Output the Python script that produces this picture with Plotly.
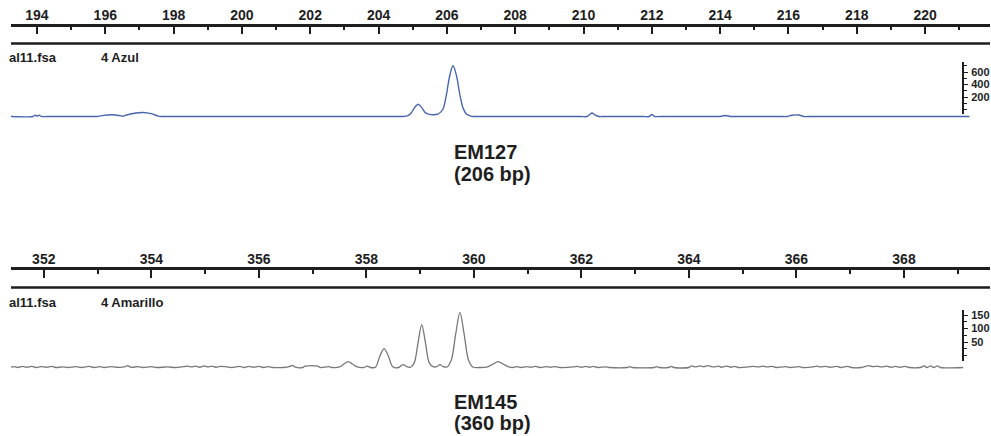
import plotly.graph_objects as go

# ---------------- data ----------------
# Panel 1: EM127, blue channel ("4 Azul"), size in bp vs RFU
azul_bp = [193.2, 193.88, 193.95, 194.0, 194.06, 194.13, 194.3, 195.55, 195.75, 195.95,
           196.2, 196.42, 196.52, 196.65, 196.9, 197.1, 197.35, 197.55, 197.65, 197.85,
           204.5, 204.7, 204.86, 204.96, 205.06, 205.16, 205.26, 205.36, 205.46, 205.6,
           205.75, 205.88, 205.98, 206.08, 206.18, 206.28, 206.38, 206.48, 206.58, 206.7,
           206.8, 207.0, 209.9, 210.1, 210.18, 210.25, 210.33, 210.45, 210.6, 211.75,
           211.92, 212.0, 212.08, 212.25, 213.8, 214.0, 214.15, 214.3, 214.5, 215.75,
           215.95, 216.1, 216.3, 216.45, 216.65, 221.3]
azul_rfu = [0, 0, 21, 6, 21, 0, 0, 0, 0, 18,
            28, 14, 4, 28, 56, 64, 45, 7, 0, 0,
            0, 0, 14, 60, 146, 197, 146, 66, 38, 27,
            42, 112, 329, 644, 812, 658, 350, 126, 35, 6,
            0, 0, 0, 0, 32, 56, 28, 0, 0, 0,
            0, 32, 0, 0, 0, 0, 16, 0, 0, 0,
            0, 21, 24, 0, 0, 0]

# Panel 2: EM145, yellow channel ("4 Amarillo")
amar_bp = [351.35, 351.45, 351.52, 351.6, 351.68, 351.78, 351.85, 351.95, 352.05, 352.15,
           352.22, 352.35, 352.45, 352.6, 352.7, 352.85, 352.92, 353.05, 353.12, 353.25,
           353.35, 353.5, 353.56, 353.62, 353.75, 353.85, 354.0, 354.1, 354.3, 354.45,
           354.6, 354.68, 354.75, 354.82, 354.9, 354.98, 355.05, 355.12, 355.2, 355.28,
           355.38, 355.5, 355.65, 355.72, 355.82, 355.9, 356.0, 356.08, 356.18, 356.26,
           356.45, 356.58, 356.63, 356.68, 356.82, 356.86, 357.1, 357.14, 357.3, 357.36,
           357.5, 357.58, 357.66, 357.74, 357.82, 357.95, 358.02, 358.08, 358.17, 358.25,
           358.33, 358.41, 358.49, 358.6, 358.68, 358.76, 358.82, 358.89, 358.96, 359.03,
           359.1, 359.17, 359.24, 359.31, 359.37, 359.43, 359.5, 359.58, 359.66, 359.74,
           359.82, 359.9, 359.98, 360.1, 360.25, 360.35, 360.45, 360.55, 360.65, 360.72,
           360.8, 360.88, 360.98, 361.05, 361.15, 361.22, 361.35, 361.42, 361.52, 361.6,
           361.85, 361.92, 362.0, 362.08, 362.15, 362.22, 362.3, 362.45, 362.52, 362.85,
           362.9, 362.95, 363.35, 363.4, 363.45, 363.62, 363.68, 363.72, 364.0, 364.05,
           364.12, 364.2, 364.28, 364.36, 364.45, 364.55, 364.6, 364.7, 364.78, 364.85,
           364.92, 365.1, 365.2, 365.28, 365.38, 365.45, 365.55, 365.62, 365.8, 365.88,
           366.05, 366.12, 366.3, 366.38, 366.45, 366.55, 366.62, 366.75, 366.82, 366.95,
           367.02, 367.2, 367.28, 367.35, 367.42, 367.5, 367.58, 367.68, 367.75, 367.85,
           367.92, 368.02, 368.1, 368.3, 368.38, 368.42, 368.5, 368.55, 368.62, 368.68,
           369.1]
amar_rfu = [0, 3, 0, 4, 1, 4, 0, 3, 1, 4,
            0, 2, 0, 3, 0, 4, 0, 3, 0, 3,
            1, 2, 7, 1, 3, 0, 3, 0, 2, 0,
            3, 5, 2, 5, 1, 6, 2, 5, 1, 4,
            3, 0, 4, 0, 4, 1, 4, 0, 3, 0,
            0, 4, 8, 1, 0, 5, 5, 0, 3, 0,
            2, 13, 22, 13, 3, 0, 5, 0, 1, 42,
            70, 42, 3, 0, 11, 2, 1, 17, 90, 159,
            90, 17, 3, 3, 11, 3, 2, 28, 122, 204,
            122, 28, 2, 0, 2, 12, 22, 12, 2, 0,
            3, 0, 3, 1, 4, 0, 3, 1, 3, 0,
            2, 4, 1, 4, 1, 4, 0, 2, 0, 0,
            3, 0, 0, 3, 0, 0, 4, 0, 0, 6,
            2, 6, 3, 7, 2, 5, 1, 5, 1, 4,
            0, 2, 4, 2, 5, 2, 4, 0, 3, 0,
            3, 0, 2, 5, 2, 4, 1, 4, 0, 4,
            0, 0, 4, 7, 3, 5, 2, 5, 1, 4,
            1, 4, 0, 0, 6, 0, 6, 0, 6, 0,
            0]

azul_scale_ticks = [200, 400, 600]
amar_scale_ticks = [50, 100, 150]

file_label = "al11.fsa"
azul_label = "4 Azul"
amar_label = "4 Amarillo"
marker1 = ["EM127", "(206 bp)"]
marker2 = ["EM145", "(360 bp)"]

# ---------------- layout helpers ----------------
W, H = 991, 436
def px(xp):
    return xp / W
def py(yp):
    return 1 - yp / H

FONT = "Arial, 'Liberation Sans', Helvetica, sans-serif"
INK = "#1e1e1e"

fig = go.Figure()

fig.add_trace(go.Scatter(x=azul_bp, y=azul_rfu, xaxis="x", yaxis="y", mode="lines",
                         line=dict(color="#4866ad", width=1.4, shape="spline", smoothing=0.9),
                         hoverinfo="skip", showlegend=False))
fig.add_trace(go.Scatter(x=amar_bp, y=amar_rfu, xaxis="x2", yaxis="y2", mode="lines",
                         line=dict(color="#787878", width=1.3, shape="spline", smoothing=0.9),
                         hoverinfo="skip", showlegend=False))
# carriers for the RFU scale bars
fig.add_trace(go.Scatter(x=[None], y=[None], xaxis="x", yaxis="y3", mode="lines",
                         hoverinfo="skip", showlegend=False))
fig.add_trace(go.Scatter(x=[None], y=[None], xaxis="x2", yaxis="y4", mode="lines",
                         hoverinfo="skip", showlegend=False))

ruler = dict(side="top", showline=True, linewidth=2.5, linecolor=INK,
             ticks="inside", ticklen=8, tickwidth=2, tickcolor=INK,
             dtick=2, showgrid=False, zeroline=False,
             tickfont=dict(family=FONT, size=14, color=INK, weight="bold"),
             minor=dict(ticks="inside", ticklen=4, tickwidth=1.5, tickcolor=INK, dtick=1, showgrid=False),
             ticklabelstandoff=-2, fixedrange=True)

# top panel: 0.0625 px per RFU, baseline at y=116.5px
k1 = 0.0625
top1 = 26.5
bot1 = 122.0
k2 = 0.27
top2 = 270.0
bot2 = 372.0
fig.update_layout(
    xaxis=dict(domain=[px(11), px(990)], range=[193.24, 221.90], tick0=194, anchor="y", **ruler),
    yaxis=dict(domain=[py(bot1), py(top1)], range=[(116.5 - bot1) / k1, (116.5 - top1) / k1], visible=False),
    xaxis2=dict(domain=[px(11), px(990)], range=[351.39, 369.60], tick0=352, anchor="y2", **ruler),
    yaxis2=dict(domain=[py(bot2), py(top2)], range=[(367.5 - bot2) / k2, (367.5 - top2) / k2], visible=False),
)

scale = dict(anchor="free", side="right", showline=True, linewidth=2, linecolor=INK,
             ticks="outside", ticklen=4, tickwidth=1.2, tickcolor=INK, showgrid=False, zeroline=False,
             ticklabelstandoff=1, fixedrange=True,
             tickfont=dict(family=FONT, size=11, color=INK, weight="bold"))
z1 = 109.5
fig.update_layout(
    yaxis3=dict(domain=[py(114), py(62)], range=[(z1 - 114) / k1, (z1 - 62) / k1],
                position=px(963), tickvals=azul_scale_ticks,
                minor=dict(ticks="outside", ticklen=2.5, tickwidth=1, tickcolor=INK, dtick=100),
                **scale),
)
z2 = 355.5
fig.update_layout(
    yaxis4=dict(domain=[py(361), py(310)], range=[(z2 - 361) / k2, (z2 - 310) / k2],
                position=px(963), tickvals=amar_scale_ticks,
                minor=dict(ticks="outside", ticklen=2.5, tickwidth=1, tickcolor=INK, dtick=25),
                **scale),
)

# second ruler rule
for yline in (43.5, 287.5):
    fig.add_shape(type="line", xref="paper", yref="paper", x0=px(11), x1=px(990),
                  y0=py(yline), y1=py(yline), line=dict(color=INK, width=2.5))

small = dict(family=FONT, size=13, color=INK, weight="bold")
big = dict(family=FONT, size=20, color=INK, weight="bold")
ann = []
for ytxt, lab in ((58, azul_label), (302, amar_label)):
    ann.append(dict(text=file_label, x=px(7), y=py(ytxt), xref="paper", yref="paper",
                    xanchor="left", yanchor="middle", showarrow=False, font=small))
    ann.append(dict(text=lab, x=px(99), y=py(ytxt), xref="paper", yref="paper",
                    xanchor="left", yanchor="middle", showarrow=False, font=small))
for (l1, l2), y1, y2 in ((marker1, 152, 174), (marker2, 401.5, 423)):
    ann.append(dict(text=l1, x=px(452), y=py(y1), xref="paper", yref="paper",
                    xanchor="left", yanchor="middle", showarrow=False, font=big))
    ann.append(dict(text=l2, x=px(452), y=py(y2), xref="paper", yref="paper",
                    xanchor="left", yanchor="middle", showarrow=False, font=big))

fig.update_layout(width=W, height=H, autosize=False,
                  margin=dict(l=0, r=0, t=0, b=0, pad=0),
                  paper_bgcolor="white", plot_bgcolor="rgba(0,0,0,0)",
                  annotations=ann, showlegend=False)

fig.write_html("out.html", config={"displayModeBar": False},
               post_script="document.body.style.margin='0';document.body.style.overflow='hidden';")
